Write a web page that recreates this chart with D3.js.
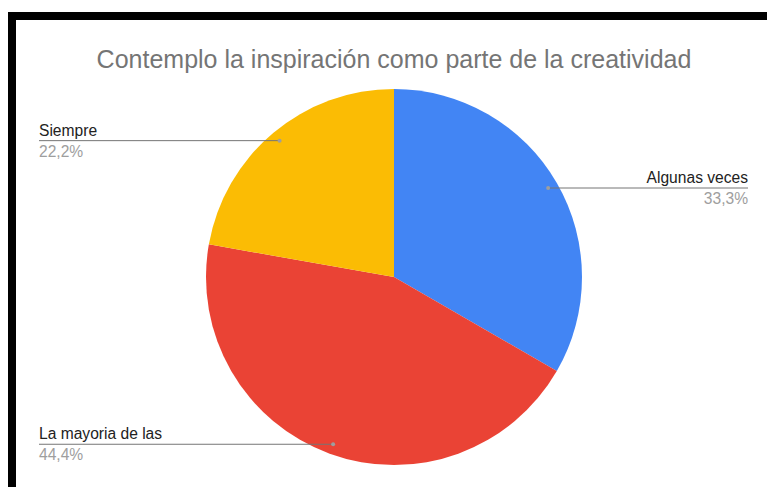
<!DOCTYPE html>
<html><head><meta charset="utf-8">
<script src="https://cdn.jsdelivr.net/npm/d3@7"></script>
<style>
html,body{margin:0;padding:0;background:#fff;}
svg{display:block;}
</style></head>
<body>
<script>
const title = "Contemplo la inspiración como parte de la creatividad";
const categories = ["Algunas veces", "La mayoria de las", "Siempre"];
const values = [3, 4, 2];
const percentLabels = ["33,3%", "44,4%", "22,2%"];
const colors = ["#4285F4", "#EA4335", "#FBBC04"];

const W = 767, H = 487;
const svg = d3.select("body").append("svg").attr("width", W).attr("height", H);
svg.append("rect").attr("width", W).attr("height", H).attr("fill", "#fff");

// frame
svg.append("rect").attr("x", 8).attr("y", 12).attr("width", W - 8).attr("height", 8).attr("fill", "#000");
svg.append("rect").attr("x", 8).attr("y", 12).attr("width", 8).attr("height", H - 12).attr("fill", "#000");

svg.append("text").attr("x", 394).attr("y", 68).attr("text-anchor", "middle")
  .attr("font-family", "Arial, 'Liberation Sans', sans-serif").attr("font-size", 25)
  .attr("fill", "#757575").text(title);

const cx = 394, cy = 277, R = 188;
const pie = d3.pie().sort(null).value(d => d)(values);
const arc = d3.arc().innerRadius(0).outerRadius(R);
const dotArc = d3.arc().innerRadius(R - 10).outerRadius(R - 10);
const g = svg.append("g").attr("transform", `translate(${cx},${cy})`);
g.selectAll("path").data(pie).join("path").attr("d", arc)
  .attr("fill", (d, i) => colors[i]);

const leftX = 39 - cx, rightX = 748 - cx;
const lab = g.append("g");
pie.forEach((d, i) => {
  const [px, py] = dotArc.centroid(d);
  const right = px > 0;
  const ex = right ? rightX : leftX;
  lab.append("line").attr("x1", px).attr("y1", py).attr("x2", ex).attr("y2", py)
    .attr("stroke", "#757575").attr("stroke-width", 1);
  lab.append("circle").attr("cx", px).attr("cy", py).attr("r", 2).attr("fill", "#9e9e9e");
  lab.append("text").attr("x", ex).attr("y", py - 5)
    .attr("text-anchor", right ? "end" : "start")
    .attr("font-family", "Arial, 'Liberation Sans', sans-serif").attr("font-size", 15.6)
    .attr("fill", "#222").text(categories[i]);
  lab.append("text").attr("x", ex).attr("y", py + 16)
    .attr("text-anchor", right ? "end" : "start")
    .attr("font-family", "Arial, 'Liberation Sans', sans-serif").attr("font-size", 15.6)
    .attr("fill", "#9e9e9e").text(percentLabels[i]);
});
</script>
</body></html>
